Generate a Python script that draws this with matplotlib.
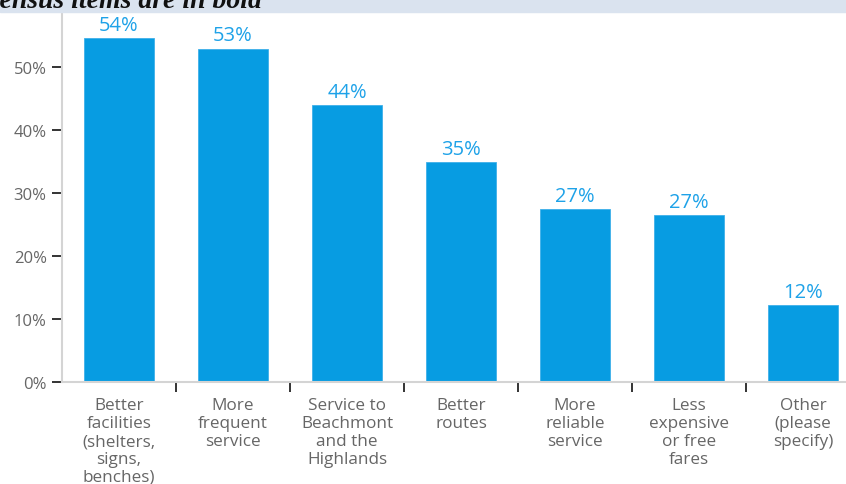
import matplotlib
matplotlib.use("Agg")
import matplotlib.pyplot as plt
from matplotlib.ticker import FixedLocator

categories = ["Better\nfacilities\n(shelters,\nsigns,\nbenches)", "More\nfrequent\nservice",
              "Service to\nBeachmont\nand the\nHighlands", "Better\nroutes",
              "More\nreliable\nservice", "Less\nexpensive\nor free\nfares", "Other\n(please\nspecify)"]
values = [54.6, 52.9, 43.9, 34.9, 27.5, 26.5, 12.2]
value_labels = ["54%", "53%", "44%", "35%", "27%", "27%", "12%"]
yticks = [0, 10, 20, 30, 40, 50]
ytick_labels = ["0%", "10%", "20%", "30%", "40%", "50%"]

plt.rcParams['font.family'] = ['Open Sans', 'DejaVu Sans']

W, H = 846, 485
fig = plt.figure(figsize=(W / 100, H / 100), dpi=100)

# light band at the top with the cut-off title
fig.patches.append(plt.Rectangle((0, (H - 12.5) / H), 1, 12.5 / H, transform=fig.transFigure,
                                 color='#dae3ef', zorder=0))
fig.text(262 / W, (H - 8) / H, "Consensus items are in bold", ha='right', va='baseline',
         fontsize=20, family='Liberation Serif', style='italic', fontweight='bold', color='#111111')

ax = fig.add_axes([62 / W, (H - 383) / H, 798 / W, 370 / H])
x = list(range(len(categories)))
ax.bar(x, values, width=0.614, color='#079ce2', edgecolor='#3fb0ea', linewidth=0.6, zorder=2)
for xi, v, lab in zip(x, values, value_labels):
    ax.text(xi, v + 0.5, lab, ha='center', va='bottom', fontsize=14.5, color='#1ea2e8')

ax.set_xlim(-0.5, 6.5)
ax.set_ylim(0, 58.7)
ax.set_xticks(x)
ax.set_xticklabels(categories, linespacing=1.16, va='top')
ax.xaxis.set_minor_locator(FixedLocator([0.5, 1.5, 2.5, 3.5, 4.5, 5.5]))
ax.tick_params(axis='x', which='major', length=0, pad=11, labelsize=12.3, labelcolor='#666666')
ax.tick_params(axis='x', which='minor', length=7, width=1.4, color='#333333')
ax.set_yticks(yticks)
ax.set_yticklabels(ytick_labels)
ax.tick_params(axis='y', length=7, width=1.4, color='#333333', pad=4, labelsize=12,
               labelcolor='#666666', direction='out')

for s in ['top', 'right']:
    ax.spines[s].set_visible(False)
for s in ['left', 'bottom']:
    ax.spines[s].set_color('#d4d4d4')
    ax.spines[s].set_linewidth(1.5)

fig.savefig("out.png", dpi=100)
